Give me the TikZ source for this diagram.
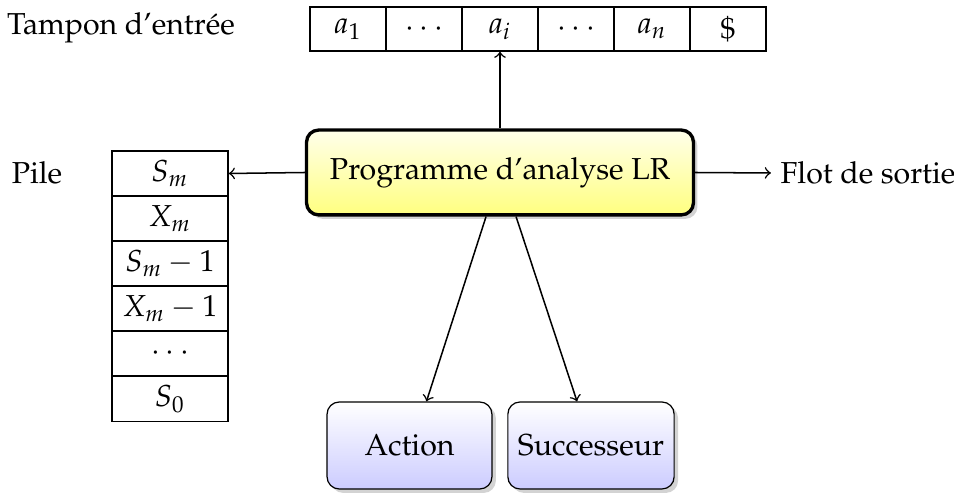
\documentclass[tikz,border=0pt]{standalone}
\usepackage[T1]{fontenc}
\usepackage{mathpazo}
\usetikzlibrary{shadows,calc}
\begin{document}
\begin{tikzpicture}[x=0.33pt,y=-0.33pt,
  cell/.style={draw,line width=0.5pt,minimum width=25.1pt,minimum height=14.5pt,inner sep=0pt,anchor=center},
  stk/.style={draw,line width=0.5pt,minimum width=38.3pt,minimum height=14.85pt,inner sep=0pt,anchor=center},
  prog/.style={draw,line width=1.1pt,rounded corners=4pt,minimum width=127.7pt,minimum height=28pt,
    top color=yellow!8,bottom color=yellow!50,drop shadow={opacity=0.35,shadow xshift=1.3pt,shadow yshift=-1.3pt}},
  tbl/.style={draw,line width=0.4pt,rounded corners=4pt,minimum width=54.4pt,minimum height=28.7pt,
    top color=white,bottom color=blue!20,drop shadow={opacity=0.35,shadow xshift=1.3pt,shadow yshift=-1.3pt}},
  arr/.style={->,line width=0.5pt}]
\useasboundingbox (0,0) rectangle (954,493);
% input tape
\node[cell] (t1) at (348,29) {$a_1$};
\node[cell] (t2) at (424,29) {$\cdots$};
\node[cell] (t3) at (500,29) {$a_i$};
\node[cell] (t4) at (576,29) {$\cdots$};
\node[cell] (t5) at (652,29) {$a_n$};
\node[cell] (t6) at (728,29) {\$};
\node (lt) at (121,28) {Tampon d'entrée};
% stack
\node[stk] (s1) at (170,173.5) {$S_m$};
\node[stk] (s2) at (170,218.5) {$X_m$};
\node[stk] (s3) at (170,263.5) {$S_m-1$};
\node[stk] (s4) at (170,308.5) {$X_m-1$};
\node[stk] (s5) at (170,353.5) {$\cdots$};
\node[stk] (s6) at (170,399) {$S_0$};
\node (lp) at (37,173) {Pile};
% program
\node[prog] (p) at (500,172.5) {Programme d'analyse LR};
\node[anchor=west,inner sep=0pt] (out) at (780,173) {Flot de sortie};
% tables
\node[tbl] (act) at (409.5,445.5) {Action};
\node[tbl] (suc) at (591,445.5) {Successeur};
% arrows
\draw[arr] (p.north) -- (t3.south);
\draw[arr] (p.west) -- (s1.east);
\draw[arr] (p.east) -- ($(out.west)+(-3pt,0)$);
\draw[arr] ($(p.south)+(-4.6pt,0)$) -- ($(act.north)+(5.6pt,0)$);
\draw[arr] ($(p.south)+(5.3pt,0)$) -- ($(suc.north)+(-4.6pt,0)$);
\end{tikzpicture}
\end{document}
